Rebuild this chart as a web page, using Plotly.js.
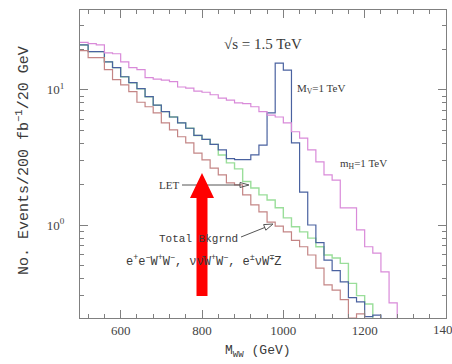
<!DOCTYPE html>
<html>
<head>
<meta charset="utf-8">
<script src="https://cdn.plot.ly/plotly-3.0.1.min.js"></script>
<style>html,body{margin:0;padding:0;background:#fff;}#chart{width:452px;height:364px;}</style>
</head>
<body>
<div id="chart"></div>
<script>
// Bin low edges (GeV), 20 GeV bins
const binEdges = [500,520,540,560,580,600,620,640,660,680,700,720,740,760,780,800,820,840,860,880,900,920,940,960,980,1000,1020,1040,1060,1080,1100,1120,1140,1160,1180,1200,1220,1240,1260,1280];

// m_H = 1 TeV (magenta)
const higgs = [22.5,22,21.5,18.8,18.5,16.1,14.6,14.1,12.3,12.0,11.8,11.5,10.5,10.3,9.8,9.6,9.2,8.7,8.4,8.0,7.9,7.5,6.9,6.5,6.3,5.7,4.9,4.4,3.6,2.93,2.35,2.15,1.34,1.34,0.92,0.69,0.62,0.45,0.265];
// M_V = 1 TeV (blue)
const vector = [21.5,19.2,19.2,16.1,14.6,12.5,11.3,10.2,8.9,7.7,6.9,6.3,5.7,5.2,4.6,4.3,3.95,3.6,3.1,3.05,3.05,3.3,3.9,6.75,15.8,14.0,4.05,1.75,1.0,0.74,0.55,0.46,0.38,0.29,0.27,0.21,0.215];
// LET (green)
const letCurve = [21.5,19.2,19.2,16.1,14.6,12.5,11.3,10.2,8.9,7.7,6.9,6.3,5.7,5.2,4.6,4.3,3.95,3.3,2.88,2.6,2.1,1.88,1.67,1.53,1.34,1.13,0.97,0.89,0.8,0.69,0.6,0.57,0.52,0.37,0.3,0.26];
// Total background (brown)
const background = [19.5,17.3,17.3,14.1,11.9,10.9,9.7,8.1,7.5,6.75,5.7,5.05,4.5,4.05,3.4,3.03,2.64,2.35,2.05,1.98,1.67,1.41,1.25,1.05,0.98,0.89,0.77,0.69,0.6,0.48,0.36,0.33,0.28,0.205,0.22];

const yMajor = [1, 10];
const yMajorText = ['10<sup>0</sup>', '10<sup>1</sup>'];
const yMinor = [0.3,0.4,0.5,0.6,0.7,0.8,0.9,2,3,4,5,6,7,8,9,20,30];

function stepTrace(vals, color, width) {
  const n = vals.length;
  const xs = binEdges.slice(0, n + 1);
  xs.push(binEdges[n]);
  const ys = vals.slice();
  ys.push(vals[n - 1]);
  ys.push(0.01);
  return {x: xs, y: ys, type: 'scatter', mode: 'lines', line: {shape: 'hv', color: color, width: width}, hoverinfo: 'skip'};
}

const traces = [
  stepTrace(letCurve, '#9ade9a', 1.4),
  stepTrace(vector, '#4a62a0', 1.2),
  stepTrace(higgs, '#d98ad9', 1.2),
  stepTrace(background, '#c48585', 1.2)
];

// pixel -> paper helpers (plot area: x 80..446, y 10..318)
const L = 80, R = 446, T = 10, B = 318;
const px = x => (x - L) / (R - L);
const py = y => (B - y) / (B - T);

const txt = '#3a3a3a';
const serif = 'Liberation Serif, serif';
const mono = 'Liberation Mono, monospace';

function ann(x, y, text, opts) {
  return Object.assign({xref: 'paper', yref: 'paper', x: px(x), y: py(y), text: text, showarrow: false,
    xanchor: 'left', yanchor: 'middle', font: {family: serif, size: 11, color: txt}}, opts || {});
}

const annotations = [
  ann(222, 44, '√s = 1.5 TeV', {font: {family: serif, size: 15, color: txt}}),
  ann(295, 89, 'M<sub>V</sub>=1 TeV'),
  ann(338, 164, 'm<sub>H</sub>=1 TeV'),
  ann(157, 185, 'LET'),
  ann(157, 239, 'Total Bkgrnd', {font: {family: mono, size: 11, color: txt}}),
  ann(124, 261, 'e<sup>+</sup>e<sup>−</sup>W<sup>+</sup>W<sup>−</sup>, νν̄W<sup>+</sup>W<sup>−</sup>, e<sup>±</sup>νW<sup>∓</sup>Z', {font: {family: mono, size: 12, color: txt}}),
  ann(258, 351, 'M<sub>WW</sub> (GeV)', {xanchor: 'center', font: {family: mono, size: 13, color: txt}}),
  ann(23, 161, 'No. Events/200 fb<sup>−1</sup>/20 GeV', {xanchor: 'center', textangle: -90, font: {family: mono, size: 15, color: txt}}),
  // last x tick label, cut by the page edge as in the reference
  ann(446, 329, '1400', {xanchor: 'center', font: {family: serif, size: 13, color: '#444'}})
];

function pathOf(pts) {
  return 'M' + pts.map(p => px(p[0]).toFixed(5) + ',' + py(p[1]).toFixed(5)).join(' L') + ' Z';
}

const shapes = [
  // LET arrow
  {type: 'line', xref: 'paper', yref: 'paper', x0: px(182), y0: py(185), x1: px(240), y1: py(185), line: {color: '#555', width: 1}},
  {type: 'path', xref: 'paper', yref: 'paper', path: pathOf([[240,182.5],[249,185],[240,187.5]]), line: {color: '#555', width: 1}},
  // Total background arrow
  {type: 'line', xref: 'paper', yref: 'paper', x0: px(241), y0: py(237), x1: px(265), y1: py(227.4), line: {color: '#555', width: 1}},
  {type: 'path', xref: 'paper', yref: 'paper', path: pathOf([[265.8,230.2],[273,224],[263.6,224.6]]), line: {color: '#555', width: 1}},
  // big red arrow overlay
  {type: 'path', xref: 'paper', yref: 'paper', layer: 'above',
   path: pathOf([[202,173],[214,198],[207.5,198],[207.5,296],[196.5,296],[196.5,198],[190,198]]),
   fillcolor: '#ff0000', line: {color: '#ff0000', width: 0}}
];

const axisCommon = {
  showgrid: false, zeroline: false, showline: true, linecolor: '#808080', linewidth: 1,
  mirror: 'ticks', ticks: 'inside', ticklen: 8, tickcolor: '#808080', tickwidth: 1,
  tickfont: {family: serif, size: 13, color: '#444'}
};

const layout = {
  width: 452, height: 364,
  margin: {l: L, r: 452 - R, t: T, b: 364 - B},
  paper_bgcolor: '#fff', plot_bgcolor: '#fff',
  showlegend: false,
  xaxis: Object.assign({}, axisCommon, {
    range: [500, 1400], tickmode: 'array', tickvals: [600, 800, 1000, 1200], ticklabelstandoff: 0,
    minor: {dtick: 40, tick0: 0, ticks: 'inside', ticklen: 4, tickcolor: '#808080'}
  }),
  yaxis: Object.assign({}, axisCommon, {
    type: 'log', range: [Math.log10(0.205), Math.log10(39)],
    tickmode: 'array', tickvals: yMajor, ticktext: yMajorText, ticklabelstandoff: 12,
    minor: {tickmode: 'array', tickvals: yMinor, ticks: 'inside', ticklen: 4, tickcolor: '#808080'}
  }),
  annotations: annotations,
  shapes: shapes
};

Plotly.newPlot('chart', traces, layout, {staticPlot: true, displayModeBar: false});
</script>
</body>
</html>
